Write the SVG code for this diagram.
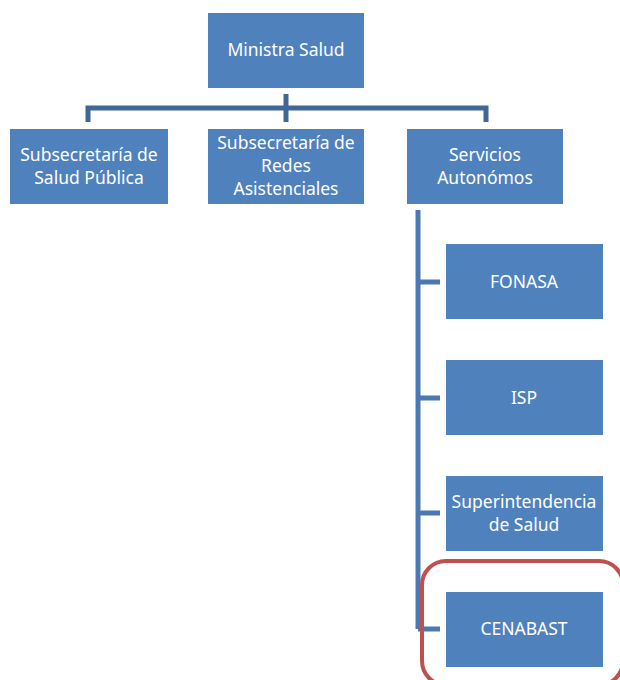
<svg xmlns="http://www.w3.org/2000/svg" width="620" height="680" viewBox="0 0 620 680">
<style>
.box{fill:#4F81BD;stroke:#FFFFFF;stroke-width:1}
.t{font-family:"Noto Sans","Liberation Sans",sans-serif;font-size:17.5px;fill:#FFFFFF;text-anchor:middle}
.c1{stroke:#3F6898;stroke-width:5;fill:none}
.c2{stroke:#4A78B4;stroke-width:5;fill:none}
</style>
<rect width="620" height="680" fill="#FFFFFF"/>
<g id="connectors">
<path class="c1" d="M286 94V122M88 122V108H486V122"/>
<path class="c2" d="M418 210V629M418 282H440M418 398H440M418 513H440M418 629H440"/>
</g>
<g id="ministra"><rect class="box" x="207.5" y="12.5" width="157" height="76"/><text class="t" x="286" y="56">Ministra Salud</text></g>
<g id="subsalud"><rect class="box" x="9.5" y="128.5" width="159" height="76"/><text class="t" x="89" y="161">Subsecretaría de</text><text class="t" x="89" y="184">Salud Pública</text></g>
<g id="subredes"><rect class="box" x="207.5" y="128.5" width="157" height="76"/><text class="t" x="286" y="149">Subsecretaría de</text><text class="t" x="286" y="172">Redes</text><text class="t" x="286" y="195">Asistenciales</text></g>
<g id="servicios"><rect class="box" x="406.5" y="128.5" width="157" height="76"/><text class="t" x="485" y="161">Servicios</text><text class="t" x="485" y="184">Autonómos</text></g>
<g id="fonasa"><rect class="box" x="445.5" y="243.5" width="158" height="76"/><text class="t" x="524" y="288">FONASA</text></g>
<g id="isp"><rect class="box" x="445.5" y="359.5" width="158" height="76"/><text class="t" x="524" y="404">ISP</text></g>
<g id="superintendencia"><rect class="box" x="445.5" y="475.5" width="158" height="76"/><text class="t" x="524" y="508">Superintendencia</text><text class="t" x="524" y="531">de Salud</text></g>
<g id="cenabast"><rect class="box" x="445.5" y="591.5" width="158" height="76"/><text class="t" x="524" y="635">CENABAST</text></g>
<g id="highlight"><rect x="422" y="561" width="201" height="124" rx="24" ry="24" fill="none" stroke="#C0504D" stroke-width="4"/></g>
</svg>
